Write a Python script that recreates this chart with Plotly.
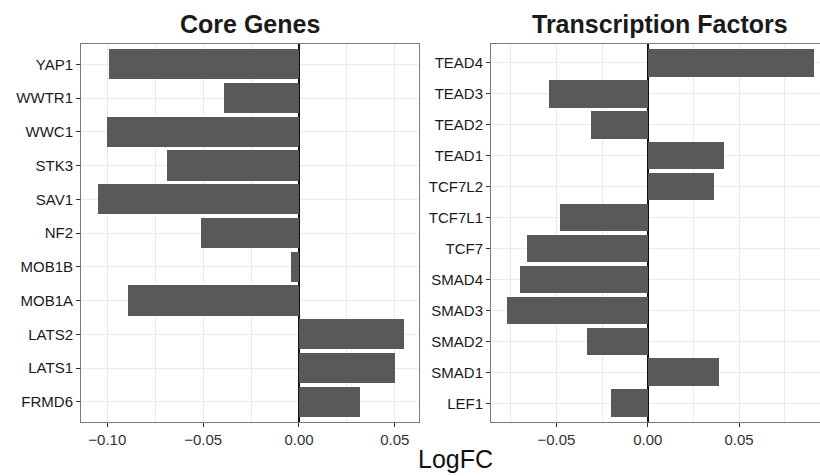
import plotly.graph_objects as go
from plotly.subplots import make_subplots

# ---- data ----
core_genes = ["FRMD6", "LATS1", "LATS2", "MOB1A", "MOB1B", "NF2",
              "SAV1", "STK3", "WWC1", "WWTR1", "YAP1"]
core_logfc = [0.032, 0.050, 0.055, -0.089, -0.004, -0.051,
              -0.105, -0.069, -0.100, -0.039, -0.099]

tf_genes = ["LEF1", "SMAD1", "SMAD2", "SMAD3", "SMAD4", "TCF7",
            "TCF7L1", "TCF7L2", "TEAD1", "TEAD2", "TEAD3", "TEAD4"]
tf_logfc = [-0.020, 0.039, -0.033, -0.077, -0.070, -0.066,
            -0.048, 0.036, 0.042, -0.031, -0.054, 0.091]

panel_titles = ["Core Genes", "Transcription Factors"]
x_title = "LogFC"

W, H = 820, 476
FONT = "Liberation Sans, Arial, Helvetica, sans-serif"
BAR = "#595959"
GRID = "#ebebeb"
BORDER = "#7a7a7a"

fig = go.Figure()
fig.add_trace(go.Bar(x=core_logfc, y=core_genes, orientation="h", width=0.9,
                     marker=dict(color=BAR, line=dict(width=0)),
                     xaxis="x", yaxis="y"))
fig.add_trace(go.Bar(x=tf_logfc, y=tf_genes, orientation="h", width=0.9,
                     marker=dict(color=BAR, line=dict(width=0)),
                     xaxis="x2", yaxis="y2"))

ydom = [1 - 422 / H, 1 - 44 / H]

common_x = dict(
    dtick=0.05, tick0=0, tickformat=".2f",
    showgrid=True, gridcolor=GRID, gridwidth=1,
    minor=dict(dtick=0.025, tick0=0, showgrid=True, gridcolor=GRID,
               gridwidth=1, ticks=""),
    zeroline=True, zerolinecolor="#111111", zerolinewidth=1.6,
    ticks="outside", ticklen=4, tickcolor="#333333", tickwidth=1,
    tickfont=dict(family=FONT, size=15, color="#333333"),
    showline=True, linecolor=BORDER, linewidth=1, mirror=True,
)
common_y = dict(
    type="category",
    showgrid=True, gridcolor=GRID, gridwidth=1,
    ticks="outside", ticklen=4, tickcolor="#333333", tickwidth=1,
    tickfont=dict(family=FONT, size=15, color="#1a1a1a"),
    showline=True, linecolor=BORDER, linewidth=1,
    zeroline=False, domain=ydom,
)

fig.update_layout(
    width=W, height=H,
    margin=dict(l=0, r=0, t=0, b=0),
    paper_bgcolor="white", plot_bgcolor="white",
    showlegend=False, bargap=0,
    xaxis=dict(common_x, domain=[81 / W, 419 / W], range=[-0.1137, 0.0626],
               anchor="y"),
    yaxis=dict(common_y, anchor="x", mirror=True,
               categoryorder="array", categoryarray=core_genes,
               range=[-0.6, len(core_genes) - 0.4]),
    xaxis2=dict(common_x, domain=[491 / W, 1.0], range=[-0.0858, 0.0943],
                anchor="y2"),
    yaxis2=dict(common_y, anchor="x2", mirror=False,
                categoryorder="array", categoryarray=tf_genes,
                range=[-0.6, len(tf_genes) - 0.4]),
    annotations=[
        dict(text="<b>%s</b>" % panel_titles[0], x=250 / W, y=1 - 24 / H,
             xref="paper", yref="paper", xanchor="center", yanchor="middle",
             showarrow=False, font=dict(family=FONT, size=25, color="#1a1a1a")),
        dict(text="<b>%s</b>" % panel_titles[1], x=660 / W, y=1 - 24 / H,
             xref="paper", yref="paper", xanchor="center", yanchor="middle",
             showarrow=False, font=dict(family=FONT, size=25, color="#1a1a1a")),
        dict(text=x_title, x=455 / W, y=1 - 459 / H,
             xref="paper", yref="paper", xanchor="center", yanchor="middle",
             showarrow=False, font=dict(family=FONT, size=25, color="#111111")),
    ],
)

fig.write_html("out.html")
